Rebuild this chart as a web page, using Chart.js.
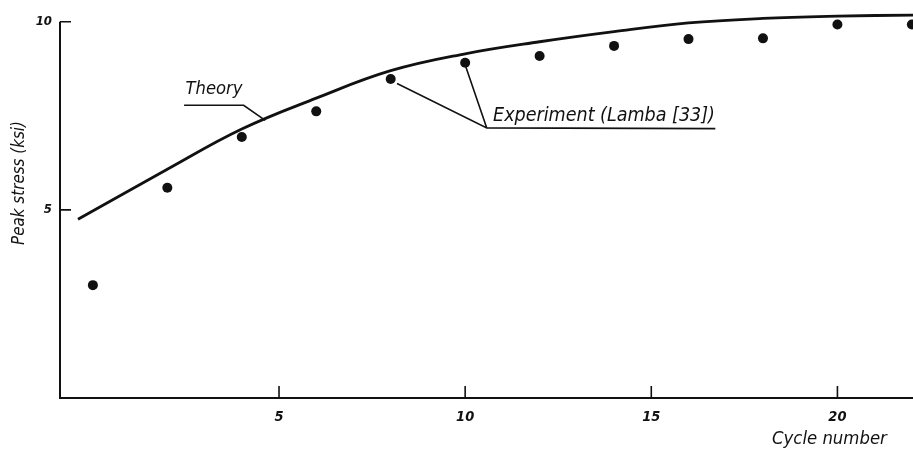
<!DOCTYPE html>
<html>
<head>
<meta charset="utf-8">
<script src="https://cdn.jsdelivr.net/npm/chart.js@4.4.1/dist/chart.umd.min.js"></script>
<style>
html,body{margin:0;padding:0;background:#fff;}
canvas{display:block;}
</style>
</head>
<body>
<canvas id="c" width="913" height="452"></canvas>
<script>
// ---- data ----
const cycles = [0, 2, 4, 6, 8, 10, 12, 14, 16, 18, 20, 22];
const experimentStress = [3.00, 5.59, 6.94, 7.62, 8.48, 8.91, 9.09, 9.36, 9.54, 9.56, 9.93, 9.93];
const theoryCycles = [-0.4, 2, 4, 6, 8, 10, 12, 14, 16, 18, 20, 22.05];
const theoryStress = [4.75, 6.08, 7.15, 7.97, 8.70, 9.15, 9.47, 9.74, 9.97, 10.09, 10.15, 10.18];
const xTickValues = [5, 10, 15, 20];
const yTickValues = [5, 10];
const xTitle = 'Cycle number';
const yTitle = 'Peak stress (ksi)';
const theoryLabel = 'Theory';
const experimentLabel = 'Experiment (Lamba [33])';

const FONT = '"DejaVu Sans Condensed", "Liberation Sans Narrow", "DejaVu Sans", sans-serif';
const INK = '#111';

function fitFont(ctx, text, width, weight) {
  ctx.font = (weight || '') + ' italic 20px ' + FONT;
  const w = ctx.measureText(text).width;
  const size = 20 * width / w;
  return (weight || '') + ' italic ' + size.toFixed(2) + 'px ' + FONT;
}

const decorations = {
  id: 'decorations',
  afterDraw(chart) {
    const ctx = chart.ctx;
    const xs = chart.scales.x, ys = chart.scales.y;
    const px = v => xs.getPixelForValue(v);
    const py = v => ys.getPixelForValue(v);
    ctx.save();
    ctx.strokeStyle = INK;
    ctx.fillStyle = INK;
    ctx.lineCap = 'butt';
    // axes
    ctx.lineWidth = 2;
    ctx.beginPath();
    ctx.moveTo(xs.left + 1, py(10));
    ctx.lineTo(xs.left + 1, py(0));
    ctx.lineTo(xs.right, py(0));
    ctx.stroke();
    // tick marks
    ctx.lineWidth = 1.6;
    ctx.beginPath();
    xTickValues.forEach(v => { ctx.moveTo(px(v), py(0)); ctx.lineTo(px(v), py(0) - 12); });
    yTickValues.forEach(v => { ctx.moveTo(xs.left + 1, py(v)); ctx.lineTo(xs.left + 12, py(v)); });
    ctx.stroke();

    // tick labels
    ctx.font = 'bold italic 14.5px ' + FONT;
    ctx.textAlign = 'center';
    ctx.textBaseline = 'middle';
    xTickValues.forEach(v => ctx.fillText(String(v), px(v), py(0) + 19));
    ctx.font = 'bold italic 13px ' + FONT;
    ctx.textAlign = 'right';
    yTickValues.forEach(v => ctx.fillText(String(v), xs.left - 7, py(v)));

    // axis titles
    ctx.textBaseline = 'alphabetic';
    ctx.textAlign = 'left';
    ctx.font = fitFont(ctx, xTitle, 115);
    ctx.fillText(xTitle, 772, 444);
    ctx.save();
    ctx.translate(24, 183);
    ctx.rotate(-Math.PI / 2);
    ctx.textAlign = 'center';
    ctx.font = fitFont(ctx, yTitle, 124);
    ctx.fillText(yTitle, 0, 0);
    ctx.restore();

    // annotations (positions in data units)
    ctx.lineWidth = 1.6;
    ctx.font = fitFont(ctx, theoryLabel, 57);
    ctx.fillText(theoryLabel, px(2.49), py(8.07));
    ctx.beginPath();
    ctx.moveTo(px(2.45), py(7.78));
    ctx.lineTo(px(4.05), py(7.78));
    ctx.lineTo(px(4.63), py(7.38));
    ctx.stroke();

    ctx.font = fitFont(ctx, experimentLabel, 222);
    ctx.fillText(experimentLabel, px(10.75), py(7.37));
    ctx.beginPath();
    ctx.moveTo(px(8.17), py(8.36));
    ctx.lineTo(px(10.58), py(7.18));
    ctx.lineTo(px(16.72), py(7.16));
    ctx.moveTo(px(10.58), py(7.18));
    ctx.lineTo(px(10.02), py(8.80));
    ctx.stroke();
    ctx.restore();
  }
};

new Chart(document.getElementById('c'), {
  type: 'scatter',
  data: {
    datasets: [
      {
        label: theoryLabel,
        data: theoryCycles.map((x, i) => ({ x, y: theoryStress[i] })),
        showLine: true,
        borderColor: INK,
        borderWidth: 2.8,
        pointRadius: 0,
        tension: 0.4,
        fill: false,
        clip: false
      },
      {
        label: experimentLabel,
        data: cycles.map((x, i) => ({ x, y: experimentStress[i] })),
        showLine: false,
        pointRadius: 5,
        pointBackgroundColor: INK,
        pointBorderColor: INK,
        pointBorderWidth: 0,
        clip: false
      }
    ]
  },
  options: {
    responsive: false,
    animation: false,
    devicePixelRatio: 1,
    layout: { autoPadding: false, padding: { top: 3, right: 0, bottom: 0, left: 0 } },
    plugins: { legend: { display: false }, tooltip: { enabled: false } },
    scales: {
      x: {
        type: 'linear',
        min: -0.91,
        max: 22.03,
        grid: { display: false, drawTicks: false },
        border: { display: false },
        ticks: { display: false },
        afterFit: s => { s.height = 54; }
      },
      y: {
        type: 'linear',
        min: 0,
        max: 10.5,
        grid: { display: false, drawTicks: false },
        border: { display: false },
        ticks: { display: false },
        afterFit: s => { s.width = 59; }
      }
    }
  },
  plugins: [decorations]
});
</script>
</body>
</html>
